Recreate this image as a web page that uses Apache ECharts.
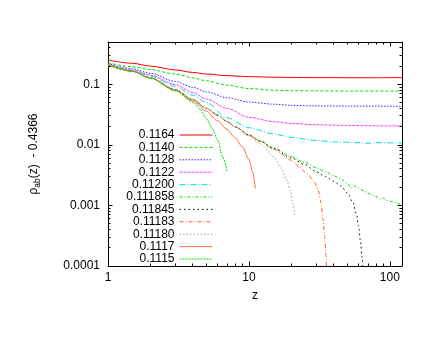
<!DOCTYPE html>
<html><head><meta charset="utf-8">
<script src="https://cdn.jsdelivr.net/npm/echarts@6/dist/echarts.min.js"></script>
<style>html,body{margin:0;padding:0;background:#fff}#c{width:436px;height:337px}</style>
</head><body><div id="c"></div>
<script>
// ---- data ----
const seriesNames = ['0.1164','0.1140','0.1128','0.1122','0.11200','0.111858','0.11845','0.11183','0.11180','0.1117','0.1115'];

const s1164 = [[1,0.252],[1.5,0.222],[2,0.2],[3,0.173],[4,0.157],[5,0.148],[7,0.139],[10,0.134],[15,0.131],[20,0.13],[30,0.129],[50,0.1285],[80,0.1285],[122,0.129]];
const s1140 = [[1,0.226],[1.5,0.195],[2,0.175],[3,0.148],[4,0.128],[5,0.114],[7,0.097],[10,0.085],[15,0.08],[20,0.0785],[30,0.078],[50,0.0775],[122,0.0775]];
const s1128 = [[1,0.22],[1.5,0.18],[2,0.152],[3,0.112],[4,0.089],[5,0.075],[7,0.06],[10,0.051],[15,0.047],[20,0.045],[30,0.044],[50,0.0437],[122,0.0435]];
const s1122 = [[1,0.216],[1.5,0.172],[2,0.142],[3,0.099],[4,0.073],[5,0.057],[7,0.04],[10,0.0285],[15,0.0242],[20,0.0226],[30,0.0215],[50,0.021],[80,0.0206],[122,0.0205]];
const s11200 = [[1,0.213],[1.5,0.167],[2,0.137],[3,0.093],[4,0.066],[5,0.05],[7,0.028],[10,0.0192],[15,0.0152],[20,0.0133],[30,0.0118],[40,0.0112],[60,0.0109],[70,0.0106],[80,0.0109],[100,0.0108],[122,0.0107]];
const s111858 = [[1,0.21],[1.5,0.164],[2,0.128],[3,0.082],[4,0.056],[5,0.04],[6,0.031],[7,0.0243],[8,0.0198],[10,0.0146],[12,0.0117],[15,0.0089],[20,0.0064],[25,0.0051],[30,0.0042],[35,0.0036],[40,0.0031],[45,0.0027],[50,0.0023],[53,0.00195],[56,0.0021],[60,0.0019],[65,0.00175],[70,0.0016],[75,0.0015],[80,0.0014],[85,0.00128],[90,0.00132],[95,0.00122],[100,0.00118],[110,0.0011],[122,0.00102]];
const s11845 = [[1,0.21],[1.5,0.164],[2,0.128],[3,0.082],[4,0.056],[5,0.04],[6,0.031],[7,0.0243],[8,0.0198],[10,0.0146],[12,0.0116],[15,0.0087],[20,0.0061],[25,0.0047],[30,0.0036],[35,0.003],[40,0.0025],[45,0.0021],[50,0.0016],[55,0.0011],[58,0.0007],[60,0.00046],[62,0.00025],[63.5,0.00014],[64.5,0.00008]];
const s11183 = [[1,0.21],[1.5,0.164],[2,0.128],[3,0.082],[4,0.056],[5,0.04],[6,0.031],[7,0.0243],[8,0.0198],[10,0.0145],[12,0.0114],[15,0.0084],[20,0.0056],[23,0.0042],[26,0.0033],[29,0.0025],[31,0.0018],[32.5,0.0011],[33.5,0.0006],[34.5,0.0003],[35.2,0.00015],[35.6,0.00008]];
const s11180 = [[1,0.21],[1.5,0.164],[2,0.128],[3,0.082],[4,0.056],[5,0.04],[6,0.031],[7,0.0243],[8,0.0196],[10,0.0141],[12,0.0105],[15,0.0064],[17,0.0041],[18.5,0.0027],[19.7,0.0017],[20.5,0.0011],[21.1,0.00065]];
const s1117 = [[1,0.21],[1.5,0.163],[2,0.126],[3,0.079],[4,0.053],[5,0.036],[6,0.025],[7,0.018],[8,0.013],[9,0.0092],[10,0.0058],[10.6,0.0036],[11.1,0.0019]];
const s1115 = [[1,0.21],[1.5,0.163],[2,0.126],[3,0.078],[4,0.051],[4.5,0.039],[5,0.027],[5.5,0.0185],[6,0.0122],[6.5,0.0064],[7,0.0036]];

const xTickValues = [1, 10, 100];
const xTickLabels = ['1', '10', '100'];
const yTickValues = [0.0001, 0.001, 0.01, 0.1];
const yTickLabels = ['0.0001', '0.001', '0.01', '0.1'];
const xMinorTicks = [2,3,4,5,6,7,8,9,20,30,40,50,60,70,80,90];
const yMinorTicks = [0.0002,0.0003,0.0004,0.0005,0.0006,0.0007,0.0008,0.0009,
                     0.002,0.003,0.004,0.005,0.006,0.007,0.008,0.009,
                     0.02,0.03,0.04,0.05,0.06,0.07,0.08,0.09,
                     0.2,0.3,0.4];

// ---- style ----
const X_MIN = 1, X_MAX = 122, Y_MIN = 0.0001, Y_MAX = 0.5;
const FONT = 'Liberation Sans';
const MINOR_LEN = 2.5;
const styles = [
  {color:'#ff0000', type:'solid'},
  {color:'#00e000', type:[3,2]},
  {color:'#2a2aff', type:[1.5,1.5]},
  {color:'#ff40ff', type:[3,1]},
  {color:'#00e0e8', type:[6,2,1,2]},
  {color:'#00dd00', type:[3,2,1,2]},
  {color:'#000000', type:[1.5,3]},
  {color:'#ff6030', type:[4,2,1,2]},
  {color:'#a0a0a0', type:[1.5,2]},
  {color:'#ff7040', type:'solid'},
  {color:'#00e000', type:[2,1]}
];
const allData = [s1164,s1140,s1128,s1122,s11200,s111858,s11845,s11183,s11180,s1117,s1115];

function fmt(values, labels) {
  return function (v) {
    for (let i = 0; i < values.length; i++) {
      if (Math.abs(Math.log10(v) - Math.log10(values[i])) < 1e-6) return labels[i];
    }
    return '';
  };
}
function crisp(v) { return Math.round(v - 0.5) + 0.5; }

const lineSeries = allData.map((d, i) => ({
  name: seriesNames[i],
  type: 'line',
  data: d,
  symbol: 'none',
  showSymbol: false,
  smooth: 0.3,
  smoothMonotone: 'x',
  lineStyle: {width: 1, color: styles[i].color, type: styles[i].type},
  itemStyle: {color: styles[i].color},
  z: 3
}));

const xMinorSeries = {
  type: 'custom', name: '_xminor', silent: true, z: 5,
  data: xMinorTicks.map(v => [v, Y_MIN]),
  renderItem: function (params, api) {
    const z = api.value(0);
    const b = api.coord([z, Y_MIN]);
    const t = api.coord([z, Y_MAX]);
    const x = crisp(b[0]);
    return {type: 'group', children: [
      {type:'line', shape:{x1:x, y1:b[1], x2:x, y2:b[1]-MINOR_LEN}, style:{stroke:'#000', lineWidth:1}},
      {type:'line', shape:{x1:x, y1:t[1], x2:x, y2:t[1]+MINOR_LEN}, style:{stroke:'#000', lineWidth:1}}
    ]};
  }
};
const yMinorSeries = {
  type: 'custom', name: '_yminor', silent: true, z: 5,
  data: yMinorTicks.map(v => [X_MIN, v]),
  renderItem: function (params, api) {
    const yv = api.value(1);
    const l = api.coord([X_MIN, yv]);
    const r = api.coord([X_MAX, yv]);
    const y = crisp(l[1]);
    return {type: 'group', children: [
      {type:'line', shape:{x1:l[0], y1:y, x2:l[0]+MINOR_LEN, y2:y}, style:{stroke:'#000', lineWidth:1}},
      {type:'line', shape:{x1:r[0], y1:y, x2:r[0]-MINOR_LEN, y2:y}, style:{stroke:'#000', lineWidth:1}}
    ]};
  }
};

const axisCommon = {
  type: 'log', logBase: 10,
  axisLine: {show: true, lineStyle: {color: '#000', width: 1}},
  axisTick: {show: true, inside: true, length: 4.5, lineStyle: {color: '#000'}},
  splitLine: {show: false},
  minorTick: {show: false}
};

const chart = echarts.init(document.getElementById('c'), null, {renderer: 'canvas'});
chart.setOption({
  animation: false,
  backgroundColor: '#fff',
  textStyle: {fontFamily: FONT},
  grid: {left: 108, right: 34, top: 42, bottom: 71, containLabel: false},
  legend: {
    data: seriesNames,
    orient: 'vertical',
    align: 'right',
    right: 223,
    top: 129,
    padding: 0,
    itemWidth: 33,
    itemHeight: 11,
    itemGap: 0.4,
    selectedMode: false,
    itemStyle: {opacity: 0},
    lineStyle: {width: 1},
    textStyle: {fontFamily: FONT, fontSize: 12, color: '#000', lineHeight: 11}
  },
  xAxis: [
    Object.assign({}, axisCommon, {
      position: 'bottom', min: X_MIN, max: X_MAX,
      name: 'z', nameLocation: 'middle', nameGap: 24,
      nameTextStyle: {fontFamily: FONT, fontSize: 12, color: '#000'},
      axisLabel: {show: true, margin: 6, color: '#000', fontFamily: FONT, fontSize: 12, formatter: fmt(xTickValues, xTickLabels), showMaxLabel: true}
    }),
    Object.assign({}, axisCommon, {
      position: 'top', min: X_MIN, max: X_MAX, axisLabel: {show: false}
    })
  ],
  yAxis: [
    Object.assign({}, axisCommon, {
      position: 'left', min: Y_MIN, max: Y_MAX,
      name: '{a|ρ}{s|ab}{a|(z)  - 0.4366}', nameLocation: 'middle', nameGap: 66, nameRotate: 90,
      nameTextStyle: {fontFamily: FONT, color: '#000',
        rich: {
          a: {fontFamily: FONT, fontSize: 12, color: '#000', lineHeight: 16},
          s: {fontFamily: FONT, fontSize: 8.5, color: '#000', lineHeight: 8, verticalAlign: 'bottom'}
        }},
      axisLabel: {show: true, margin: 8, color: '#000', fontFamily: FONT, fontSize: 12, formatter: fmt(yTickValues, yTickLabels)}
    }),
    Object.assign({}, axisCommon, {
      position: 'right', min: Y_MIN, max: Y_MAX, axisLabel: {show: false}
    })
  ],
  series: lineSeries.concat([xMinorSeries, yMinorSeries])
});
</script>
</body></html>
